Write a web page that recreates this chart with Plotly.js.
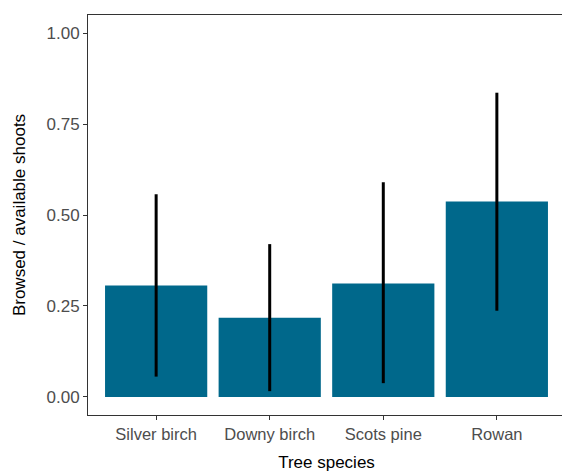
<!DOCTYPE html>
<html>
<head>
<meta charset="utf-8">
<script src="https://cdn.plot.ly/plotly-3.0.1.min.js"></script>
<style>
html, body { margin: 0; padding: 0; overflow: hidden; background: #fff; }
#chart { width: 570px; height: 472px; }
</style>
</head>
<body>
<div id="chart"></div>
<script>
const species = ["Silver birch", "Downy birch", "Scots pine", "Rowan"];
const meanRatio = [0.306, 0.218, 0.312, 0.537];
const lowerCI = [0.056, 0.016, 0.038, 0.237];
const upperCI = [0.557, 0.420, 0.590, 0.836];
const yTickVals = [0, 0.25, 0.5, 0.75, 1];
const yTickText = ["0.00", "0.25", "0.50", "0.75", "1.00"];

const errPlus = upperCI.map((u, i) => u - meanRatio[i]);
const errMinus = lowerCI.map((l, i) => meanRatio[i] - l);

const trace = {
  type: "bar",
  x: species,
  y: meanRatio,
  width: 0.9,
  marker: { color: "#00688B", line: { width: 0 } },
  error_y: {
    type: "data",
    symmetric: false,
    array: errPlus,
    arrayminus: errMinus,
    color: "#000000",
    thickness: 3,
    width: 0
  },
  hoverinfo: "none"
};

const fontFam = "Liberation Sans, Arial, sans-serif";

const layout = {
  width: 570,
  height: 472,
  margin: { l: 88, r: 5, t: 15, b: 57 },
  paper_bgcolor: "#ffffff",
  plot_bgcolor: "#ffffff",
  showlegend: false,
  font: { family: fontFam, size: 17, color: "#4d4d4d" },
  xaxis: {
    type: "category",
    range: [-0.6, 3.6],
    showline: true,
    mirror: true,
    linecolor: "#333333",
    linewidth: 1,
    ticks: "outside",
    ticklen: 4,
    tickwidth: 1,
    tickcolor: "#333333",
    showgrid: false,
    zeroline: false,
    tickfont: { family: fontFam, size: 16.5, color: "#4d4d4d" },
    title: { text: "Tree species", font: { family: fontFam, size: 17, color: "#000000" }, standoff: 15 }
  },
  yaxis: {
    range: [-0.0495, 1.0495],
    tickvals: yTickVals,
    ticktext: yTickText,
    showline: true,
    mirror: false,
    linecolor: "#333333",
    linewidth: 1,
    ticks: "outside",
    ticklen: 4,
    tickwidth: 1,
    tickcolor: "#333333",
    showgrid: false,
    zeroline: false,
    tickfont: { family: fontFam, size: 17, color: "#4d4d4d" },
    title: { text: "Browsed / available shoots", font: { family: fontFam, size: 17, color: "#000000" }, standoff: 16 }
  }
};

Plotly.newPlot("chart", [trace], layout, { displayModeBar: false, staticPlot: true });
</script>
</body>
</html>
